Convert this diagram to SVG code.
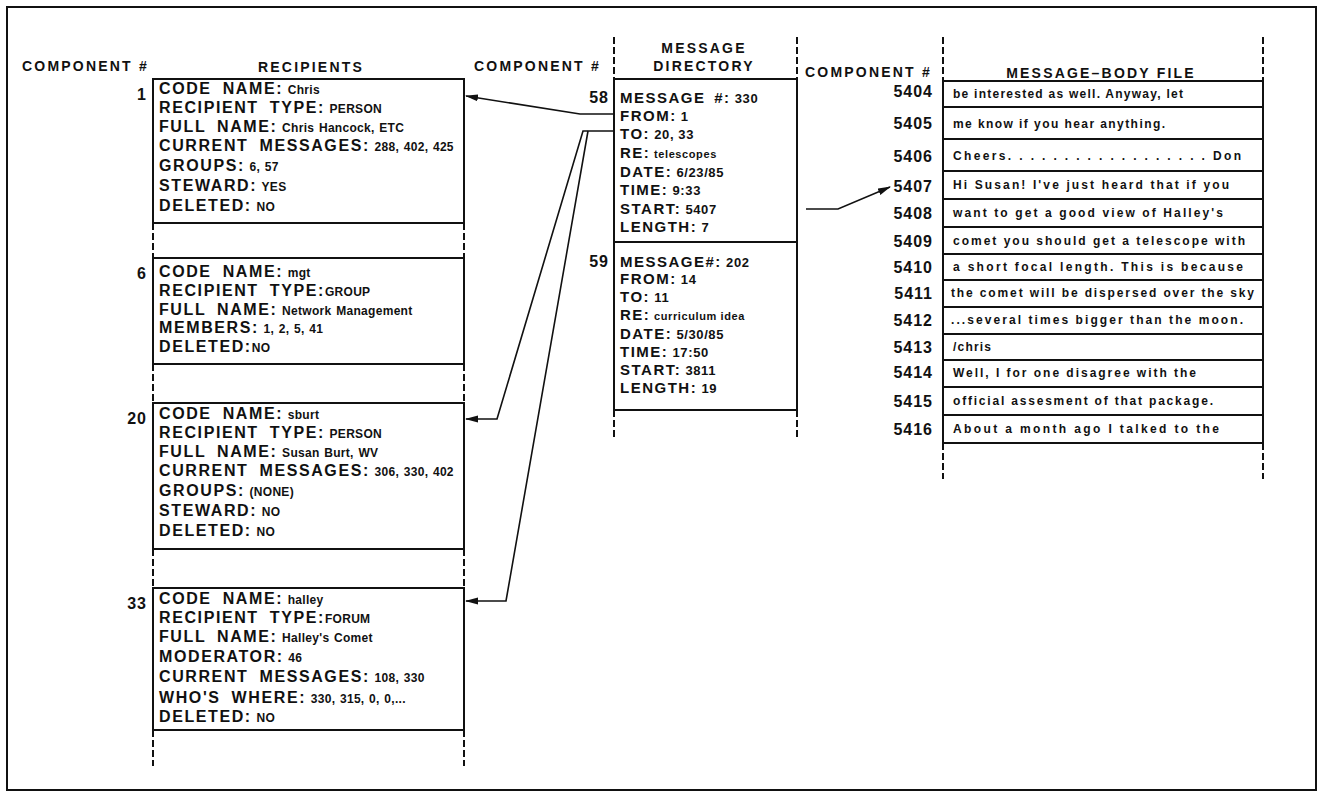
<svg xmlns="http://www.w3.org/2000/svg" width="1323" height="793" viewBox="0 0 1323 793">
<style>
text{font-family:"Liberation Sans",Arial,sans-serif;font-weight:bold;fill:#111}
.h{font-size:14px;letter-spacing:2.2px}
.l{font-size:16px;letter-spacing:1.6px;word-spacing:5px}
.v{font-size:12px;letter-spacing:0.3px;word-spacing:1px}
.dl{font-size:15px;letter-spacing:1.5px;word-spacing:3px}
.dv{font-size:13px;letter-spacing:0.6px}
.dvs{font-size:11px;letter-spacing:0.6px}
.n{font-size:16px;letter-spacing:1px;text-anchor:end}
.b{font-size:12px}
.box{fill:#fff;stroke:#111;stroke-width:2}
.dash{fill:none;stroke:#111;stroke-width:2;stroke-dasharray:7 3}
.con{fill:none;stroke:#111;stroke-width:1.6}
</style>
<defs>
<marker id="ah" markerUnits="userSpaceOnUse" markerWidth="13" markerHeight="8" refX="12" refY="4" orient="auto">
<path d="M0,0.5 L13,4 L0,7.5 z" fill="#111"/>
</marker>
</defs>
<rect x="0" y="0" width="1323" height="793" fill="#fff"/>
<rect x="7" y="7" width="1309" height="783" fill="none" stroke="#111" stroke-width="2"/>

<g id="headers">
<text class="h" x="22" y="71">COMPONENT #</text>
<text class="h" x="311" y="72" text-anchor="middle">RECIPIENTS</text>
<text class="h" x="474" y="71">COMPONENT #</text>
<text class="h" x="704" y="53" text-anchor="middle">MESSAGE</text>
<text class="h" x="704" y="71" text-anchor="middle">DIRECTORY</text>
<text class="h" x="805" y="77">COMPONENT #</text>
<text class="h" x="1101" y="78" text-anchor="middle">MESSAGE–BODY FILE</text>
</g>

<g id="recipients-guides">
<line class="dash" x1="153" y1="223" x2="153" y2="258"/><line class="dash" x1="464" y1="223" x2="464" y2="258"/>
<line class="dash" x1="153" y1="364" x2="153" y2="403"/><line class="dash" x1="464" y1="364" x2="464" y2="403"/>
<line class="dash" x1="153" y1="549" x2="153" y2="588"/><line class="dash" x1="464" y1="549" x2="464" y2="588"/>
<line class="dash" x1="153" y1="730" x2="153" y2="766"/><line class="dash" x1="464" y1="730" x2="464" y2="766"/>
</g>

<g id="recipient-1">
<rect class="box" x="153" y="79" width="311" height="144"/>
<text class="n" x="147" y="100">1</text>
<text x="159" y="94"><tspan class="l">CODE NAME:</tspan><tspan class="v"> Chris</tspan></text>
<text x="159" y="113"><tspan class="l">RECIPIENT TYPE:</tspan><tspan class="v"> PERSON</tspan></text>
<text x="159" y="132"><tspan class="l">FULL NAME:</tspan><tspan class="v"> Chris Hancock, ETC</tspan></text>
<text x="159" y="151"><tspan class="l">CURRENT MESSAGES:</tspan><tspan class="v"> 288, 402, 425</tspan></text>
<text x="159" y="171"><tspan class="l">GROUPS:</tspan><tspan class="v"> 6, 57</tspan></text>
<text x="159" y="191"><tspan class="l">STEWARD:</tspan><tspan class="v"> YES</tspan></text>
<text x="159" y="211"><tspan class="l">DELETED:</tspan><tspan class="v"> NO</tspan></text>
</g>

<g id="recipient-6">
<rect class="box" x="153" y="258" width="311" height="106"/>
<text class="n" x="147" y="279">6</text>
<text x="159" y="277"><tspan class="l">CODE NAME:</tspan><tspan class="v"> mgt</tspan></text>
<text x="159" y="296"><tspan class="l">RECIPIENT TYPE:</tspan><tspan class="v">GROUP</tspan></text>
<text x="159" y="315"><tspan class="l">FULL NAME:</tspan><tspan class="v"> Network Management</tspan></text>
<text x="159" y="333"><tspan class="l">MEMBERS:</tspan><tspan class="v"> 1, 2, 5, 41</tspan></text>
<text x="159" y="352"><tspan class="l">DELETED:</tspan><tspan class="v">NO</tspan></text>
</g>

<g id="recipient-20">
<rect class="box" x="153" y="403" width="311" height="146"/>
<text class="n" x="147" y="424">20</text>
<text x="159" y="419"><tspan class="l">CODE NAME:</tspan><tspan class="v"> sburt</tspan></text>
<text x="159" y="438"><tspan class="l">RECIPIENT TYPE:</tspan><tspan class="v"> PERSON</tspan></text>
<text x="159" y="457"><tspan class="l">FULL NAME:</tspan><tspan class="v"> Susan Burt, WV</tspan></text>
<text x="159" y="476"><tspan class="l">CURRENT MESSAGES:</tspan><tspan class="v"> 306, 330, 402</tspan></text>
<text x="159" y="496"><tspan class="l">GROUPS:</tspan><tspan class="v"> (NONE)</tspan></text>
<text x="159" y="516"><tspan class="l">STEWARD:</tspan><tspan class="v"> NO</tspan></text>
<text x="159" y="536"><tspan class="l">DELETED:</tspan><tspan class="v"> NO</tspan></text>
</g>

<g id="recipient-33">
<rect class="box" x="153" y="588" width="311" height="142"/>
<text class="n" x="147" y="609">33</text>
<text x="159" y="604"><tspan class="l">CODE NAME:</tspan><tspan class="v"> halley</tspan></text>
<text x="159" y="623"><tspan class="l">RECIPIENT TYPE:</tspan><tspan class="v">FORUM</tspan></text>
<text x="159" y="642"><tspan class="l">FULL NAME:</tspan><tspan class="v"> Halley's Comet</tspan></text>
<text x="159" y="662"><tspan class="l">MODERATOR:</tspan><tspan class="v"> 46</tspan></text>
<text x="159" y="682"><tspan class="l">CURRENT MESSAGES:</tspan><tspan class="v"> 108, 330</tspan></text>
<text x="159" y="703"><tspan class="l">WHO'S WHERE:</tspan><tspan class="v"> 330, 315, 0, 0,...</tspan></text>
<text x="159" y="722"><tspan class="l">DELETED:</tspan><tspan class="v"> NO</tspan></text>
</g>

<g id="directory-guides">
<line class="dash" x1="614" y1="37" x2="614" y2="79"/><line class="dash" x1="797" y1="37" x2="797" y2="79"/>
<line class="dash" x1="614" y1="410" x2="614" y2="440"/><line class="dash" x1="797" y1="410" x2="797" y2="440"/>
</g>

<g id="message-58">
<rect class="box" x="614" y="79" width="183" height="163"/>
<text class="n" x="609" y="103">58</text>
<text x="620" y="103"><tspan class="dl">MESSAGE #:</tspan><tspan class="dv"> 330</tspan></text>
<text x="620" y="121"><tspan class="dl">FROM:</tspan><tspan class="dv"> 1</tspan></text>
<text x="620" y="139"><tspan class="dl">TO:</tspan><tspan class="dv">  20, 33</tspan></text>
<text x="620" y="158"><tspan class="dl">RE:</tspan><tspan class="dvs">  telescopes</tspan></text>
<text x="620" y="177"><tspan class="dl">DATE:</tspan><tspan class="dv"> 6/23/85</tspan></text>
<text x="620" y="195"><tspan class="dl">TIME:</tspan><tspan class="dv"> 9:33</tspan></text>
<text x="620" y="214"><tspan class="dl">START:</tspan><tspan class="dv"> 5407</tspan></text>
<text x="620" y="232"><tspan class="dl">LENGTH:</tspan><tspan class="dv"> 7</tspan></text>
</g>

<g id="message-59">
<rect class="box" x="614" y="242" width="183" height="168"/>
<text class="n" x="609" y="267">59</text>
<text x="620" y="267"><tspan class="dl">MESSAGE#:</tspan><tspan class="dv"> 202</tspan></text>
<text x="620" y="284"><tspan class="dl">FROM:</tspan><tspan class="dv"> 14</tspan></text>
<text x="620" y="302"><tspan class="dl">TO:</tspan><tspan class="dv"> 11</tspan></text>
<text x="620" y="320"><tspan class="dl">RE:</tspan><tspan class="dvs"> curriculum idea</tspan></text>
<text x="620" y="339"><tspan class="dl">DATE:</tspan><tspan class="dv"> 5/30/85</tspan></text>
<text x="620" y="357"><tspan class="dl">TIME:</tspan><tspan class="dv"> 17:50</tspan></text>
<text x="620" y="375"><tspan class="dl">START:</tspan><tspan class="dv"> 3811</tspan></text>
<text x="620" y="393"><tspan class="dl">LENGTH:</tspan><tspan class="dv"> 19</tspan></text>
</g>

<g id="body-guides">
<line class="dash" x1="943" y1="37" x2="943" y2="81"/><line class="dash" x1="1263" y1="37" x2="1263" y2="81"/>
<line class="dash" x1="943" y1="443" x2="943" y2="479"/><line class="dash" x1="1263" y1="443" x2="1263" y2="479"/>
</g>

<g id="body-5404"><rect class="box" x="943" y="81" width="320" height="26"/><text class="n" x="933" y="97">5404</text><text class="b" x="953" y="98" textLength="230" lengthAdjust="spacing">be interested as well. Anyway, let</text></g>
<g id="body-5405"><rect class="box" x="943" y="107" width="320" height="32"/><text class="n" x="933" y="129">5405</text><text class="b" x="953" y="128" textLength="212" lengthAdjust="spacing">me know if you hear anything.</text></g>
<g id="body-5406"><rect class="box" x="943" y="139" width="320" height="32"/><text class="n" x="933" y="162">5406</text><text class="b" x="953" y="160" textLength="288" lengthAdjust="spacing">Cheers. . . . . . . . . . . . . . . . . . Don</text></g>
<g id="body-5407"><rect class="box" x="943" y="171" width="320" height="28"/><text class="n" x="933" y="192">5407</text><text class="b" x="953" y="189" textLength="276" lengthAdjust="spacing">Hi Susan! I've just heard that if you</text></g>
<g id="body-5408"><rect class="box" x="943" y="199" width="320" height="28"/><text class="n" x="933" y="219">5408</text><text class="b" x="953" y="217" textLength="270" lengthAdjust="spacing">want to get a good view of Halley's</text></g>
<g id="body-5409"><rect class="box" x="943" y="227" width="320" height="27"/><text class="n" x="933" y="247">5409</text><text class="b" x="953" y="245" textLength="292" lengthAdjust="spacing">comet you should get a telescope with</text></g>
<g id="body-5410"><rect class="box" x="943" y="254" width="320" height="26"/><text class="n" x="933" y="273">5410</text><text class="b" x="953" y="271" textLength="290" lengthAdjust="spacing">a short focal length. This is because</text></g>
<g id="body-5411"><rect class="box" x="943" y="280" width="320" height="27"/><text class="n" x="933" y="299">5411</text><text class="b" x="951" y="297" textLength="303" lengthAdjust="spacing">the comet will be dispersed over the sky</text></g>
<g id="body-5412"><rect class="box" x="943" y="307" width="320" height="27"/><text class="n" x="933" y="326">5412</text><text class="b" x="951" y="324" textLength="292" lengthAdjust="spacing">...several times bigger than the moon.</text></g>
<g id="body-5413"><rect class="box" x="943" y="334" width="320" height="26"/><text class="n" x="933" y="353">5413</text><text class="b" x="953" y="351" textLength="38" lengthAdjust="spacing">/chris</text></g>
<g id="body-5414"><rect class="box" x="943" y="360" width="320" height="27"/><text class="n" x="933" y="378">5414</text><text class="b" x="953" y="377" textLength="243" lengthAdjust="spacing">Well, I for one disagree with the</text></g>
<g id="body-5415"><rect class="box" x="943" y="387" width="320" height="28"/><text class="n" x="933" y="407">5415</text><text class="b" x="953" y="405" textLength="260" lengthAdjust="spacing">official assesment of that package.</text></g>
<g id="body-5416"><rect class="box" x="943" y="415" width="320" height="28"/><text class="n" x="933" y="435">5416</text><text class="b" x="953" y="433" textLength="266" lengthAdjust="spacing">About a month ago I talked to the</text></g>

<g id="connectors">
<path class="con" d="M614,114 L580,114 L466,96" marker-end="url(#ah)"/>
<path class="con" d="M614,131 L583,131 L497,419 L466,419" marker-end="url(#ah)"/>
<path class="con" d="M588,131 L506,601 L466,601" marker-end="url(#ah)"/>
<path class="con" d="M806,209 L838,209 L890,187" marker-end="url(#ah)"/>
</g>
</svg>
